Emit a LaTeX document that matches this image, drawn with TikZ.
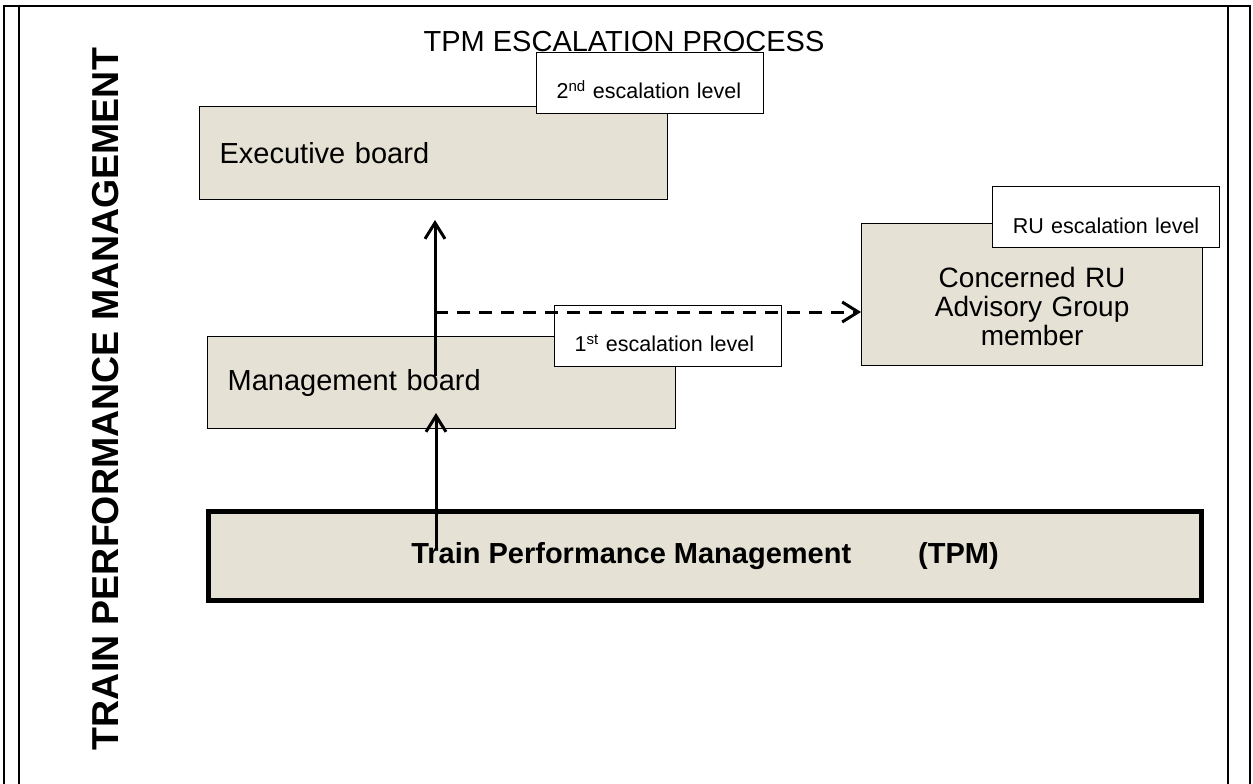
\documentclass[tikz,border=0pt]{standalone}
\usepackage{fontspec}
\setmainfont{Liberation Sans}
\usepackage{xcolor}
\usetikzlibrary{arrows.meta,positioning,calc}
\definecolor{boardfill}{RGB}{229,225,212}

\begin{document}
\begin{tikzpicture}[x=1pt, y=-1pt,
  big/.style={font=\fontsize{29}{29}\selectfont},
  small/.style={font=\fontsize{21.5}{22}\selectfont},
  board/.style={draw, fill=boardfill, line width=1.2pt, anchor=north west, inner xsep=20pt, inner ysep=0pt},
  lvl/.style={draw, fill=white, line width=1.2pt, anchor=north west, inner ysep=0pt, inner xsep=20pt, text width=187pt, align=left, text height=46pt, text depth=15pt, small},
  arr/.style={-{Straight Barb[length=16pt, width=20pt]}, line width=3pt},
  frame/.style={line width=2.5pt}]
\useasboundingbox (0,0) rectangle (1253,784);
\draw[frame] (4,784) -- (4,6) -- (1250,6) -- (1250,784);
\draw[frame] (19,6) -- (19,784);
\draw[frame] (1228,6) -- (1228,784);
\node[big, anchor=base] (title) at (624,52) {TPM ESCALATION PROCESS};
\node[rotate=90, font=\bfseries\fontsize{37.5}{38}\selectfont] (side) at (106,399) {TRAIN PERFORMANCE MANAGEMENT};
\node[board, big, text width=428pt, align=left, minimum height=93pt] (exec) at (199,106) {Executive board};
\node[board, big, text width=428pt, align=left, minimum height=92pt] (mgmt) at (207,336) {Management board};
\node[board, font=\fontsize{28}{29}\selectfont, text width=301pt, align=center, text height=64pt, text depth=78pt] (ru) at (861,223) {Concerned RU\\Advisory Group\\member};
\node[board, line width=5pt, anchor=center, minimum width=993pt, minimum height=89.5pt, font=\bfseries\fontsize{29}{29}\selectfont] (tpm) at (705,555.75) {Train Performance Management\hspace{67pt}(TPM)};
\node[lvl] (lvl2) at (536,52) {2\textsuperscript{nd} escalation level};
\node[lvl] (lvl1) at (554,305) {1\textsuperscript{st} escalation level};
\node[lvl, inner xsep=12pt, text width=203pt, align=center, text height=47pt, text depth=14pt] (lvlru) at (992,186) {RU escalation level};
\coordinate (m1) at (435,376);
\coordinate (e1) at (435,220);
\coordinate (t1) at (436,550);
\coordinate (m2) at (436,413);
\coordinate (fork) at (435,312);
\draw[arr] (m1) -- (e1);
\draw[arr] (t1) -- (m2);
\draw[arr, dash pattern=on 13pt off 9pt] (fork) -- (fork -| ru.west);
\end{tikzpicture}
\end{document}
